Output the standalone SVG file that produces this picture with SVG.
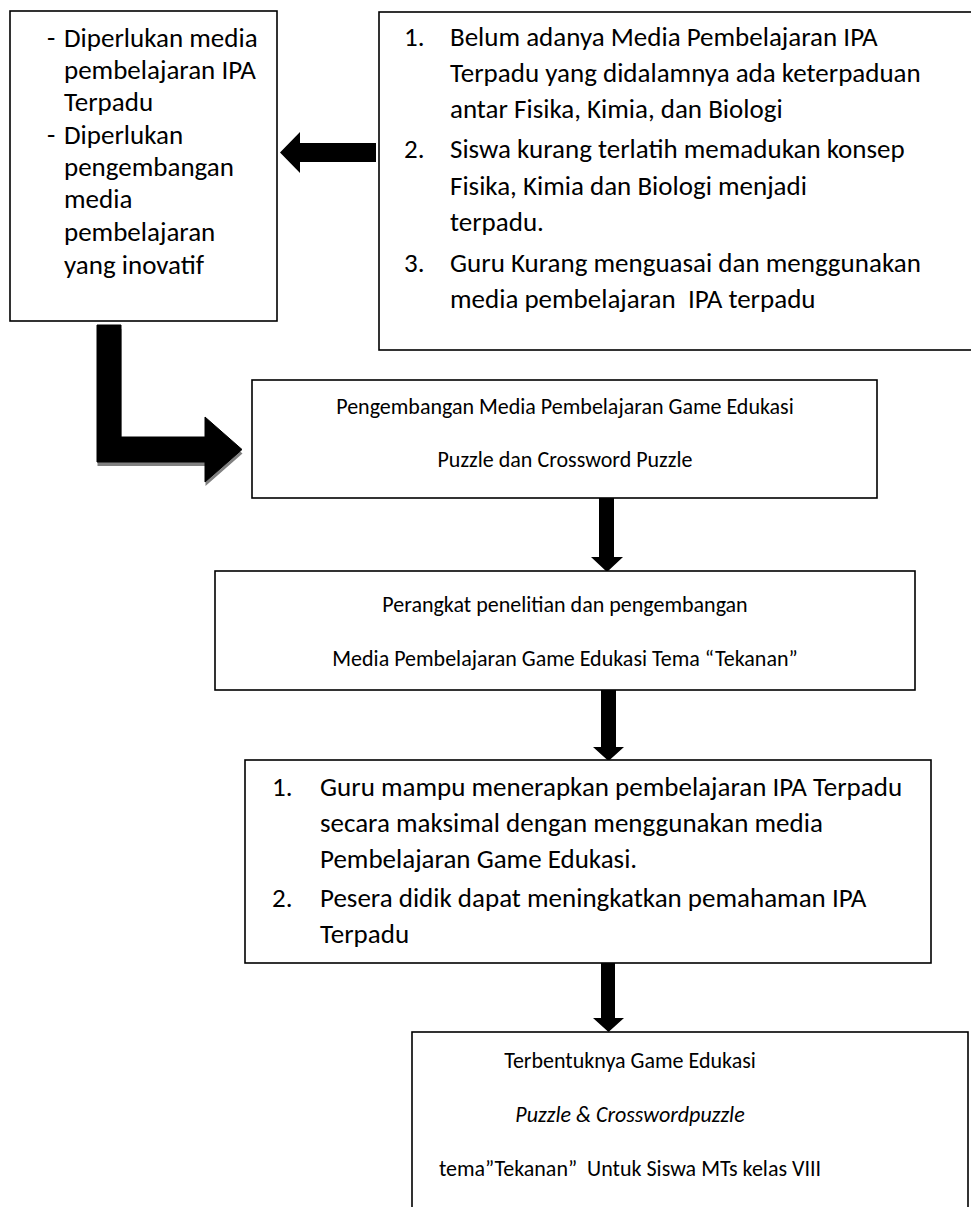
<svg xmlns="http://www.w3.org/2000/svg" width="971" height="1207" viewBox="0 0 971 1207">
<style>
.box{fill:#fff;stroke:#000;stroke-width:1.6}
.t{font-family:Carlito,Lato,"Liberation Sans",sans-serif;font-size:27px;fill:#000}
.s{font-size:22px}
.c{text-anchor:middle}
.i{font-style:italic}
.arr{fill:#000}
.sh{fill:#808080}
</style>
<rect width="971" height="1207" fill="#fff"/>
<g id="connectors">
<path class="arr" d="M376,143 H300 V132 L280,152.5 L300,173 V162 H376 Z"/>
<path class="sh" d="M97.5,329 H121.5 V441 H205.5 V421 L242.5,453.5 L205.5,486 V466 H97.5 Z"/>
<path class="arr" d="M97,325 H121 V437 H205 V417 L242,449.5 L205,482 V462 H97 Z" stroke="#000" stroke-width="1" stroke-linejoin="round"/>
<path class="arr" d="M599,498 H614 V557 H623 L607,572 L591,557 H599 Z"/>
<path class="arr" d="M601,690 H616 V747 H624 L608.5,761 L593,747 H601 Z"/>
<path class="arr" d="M601,963 H615 V1018 H624 L608.5,1032 L593,1018 H601 Z"/>
</g>
<g id="node-needs">
<rect class="box" x="10" y="11" width="267" height="310"/>
<text class="t" x="47" y="47">-</text>
<text class="t" x="64" y="47">Diperlukan media</text>
<text class="t" x="64" y="79">pembelajaran IPA</text>
<text class="t" x="64" y="111">Terpadu</text>
<text class="t" x="47" y="144">-</text>
<text class="t" x="64" y="144">Diperlukan</text>
<text class="t" x="64" y="176">pengembangan</text>
<text class="t" x="64" y="208">media</text>
<text class="t" x="64" y="241">pembelajaran</text>
<text class="t" x="64" y="274">yang inovatif</text>
</g>
<g id="node-problems">
<rect class="box" x="379" y="12" width="600" height="338"/>
<text class="t" x="404" y="46">1.</text>
<text class="t" x="450" y="46">Belum adanya Media Pembelajaran IPA</text>
<text class="t" x="450" y="82">Terpadu yang didalamnya ada keterpaduan</text>
<text class="t" x="450" y="118">antar Fisika, Kimia, dan Biologi</text>
<text class="t" x="404" y="158">2.</text>
<text class="t" x="450" y="158">Siswa kurang terlatih memadukan konsep</text>
<text class="t" x="450" y="195">Fisika, Kimia dan Biologi menjadi</text>
<text class="t" x="450" y="231">terpadu.</text>
<text class="t" x="404" y="272">3.</text>
<text class="t" x="450" y="272">Guru Kurang menguasai dan menggunakan</text>
<text class="t" x="450" y="308" xml:space="preserve">media pembelajaran  IPA terpadu</text>
</g>
<g id="node-development">
<rect class="box" x="252" y="380" width="625" height="118"/>
<text class="t s c" x="565" y="414">Pengembangan Media Pembelajaran Game Edukasi</text>
<text class="t s c" x="565" y="467">Puzzle dan Crossword Puzzle</text>
</g>
<g id="node-tools">
<rect class="box" x="215" y="571" width="700" height="119"/>
<text class="t s c" x="565" y="612">Perangkat penelitian dan pengembangan</text>
<text class="t s c" x="565" y="666">Media Pembelajaran Game Edukasi Tema “Tekanan”</text>
</g>
<g id="node-outcomes">
<rect class="box" x="245" y="760" width="686" height="203"/>
<text class="t" x="272" y="796">1.</text>
<text class="t" x="320" y="796">Guru mampu menerapkan pembelajaran IPA Terpadu</text>
<text class="t" x="320" y="832">secara maksimal dengan menggunakan media</text>
<text class="t" x="320" y="868">Pembelajaran Game Edukasi.</text>
<text class="t" x="272" y="907">2.</text>
<text class="t" x="320" y="907">Pesera didik dapat meningkatkan pemahaman IPA</text>
<text class="t" x="320" y="943">Terpadu</text>
</g>
<g id="node-result">
<rect class="box" x="412" y="1032" width="556" height="200"/>
<text class="t s c" x="630" y="1068">Terbentuknya Game Edukasi</text>
<text class="t s c i" x="630" y="1122">Puzzle &amp; Crosswordpuzzle</text>
<text class="t s c" x="630" y="1176" xml:space="preserve">tema”Tekanan”  Untuk Siswa MTs kelas VIII</text>
</g>
</svg>
